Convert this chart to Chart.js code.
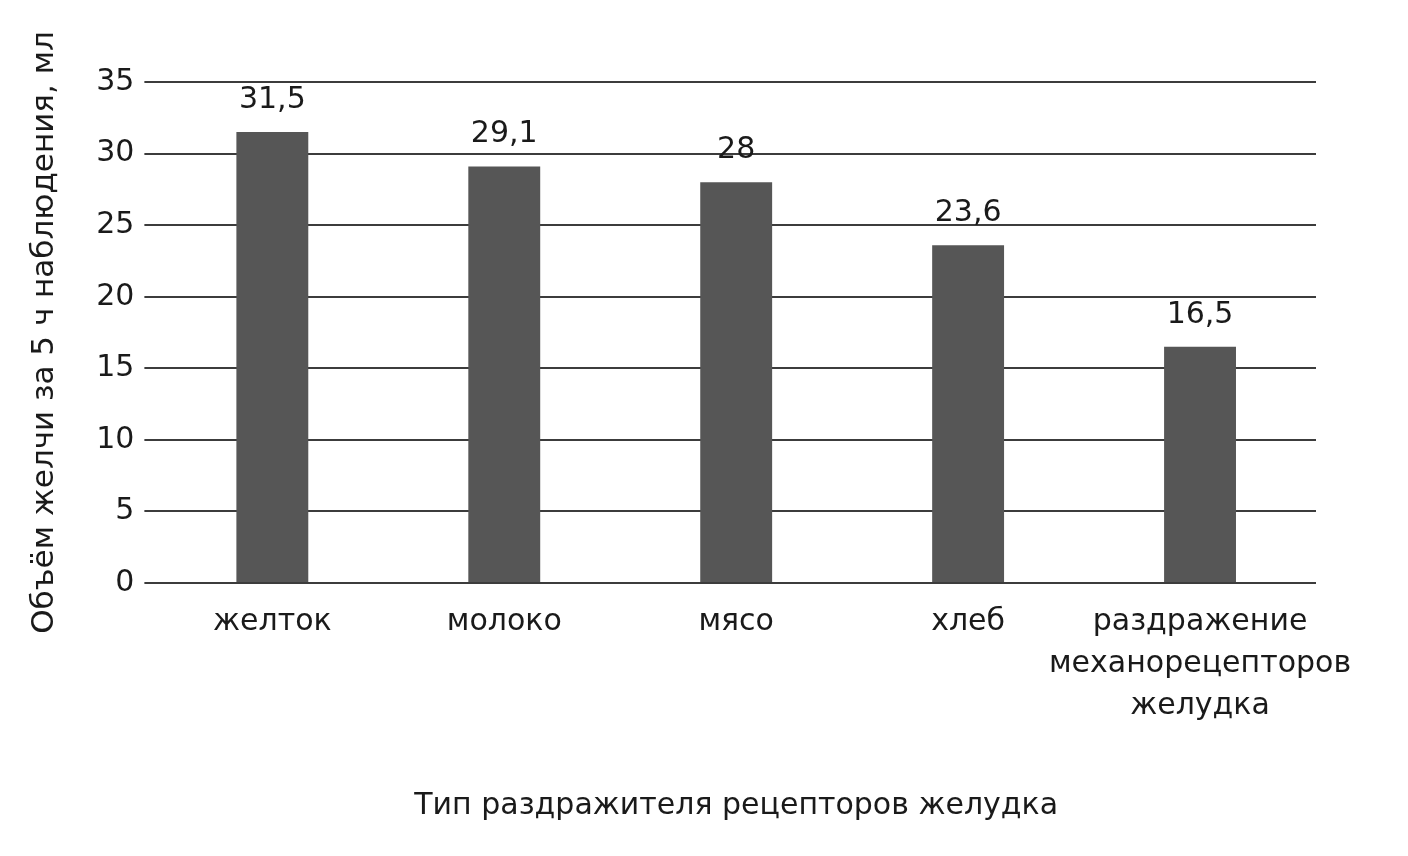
<!DOCTYPE html>
<html>
<head>
<meta charset="utf-8">
<script src="https://cdn.jsdelivr.net/npm/chart.js@4"></script>
<style>
  html, body { margin:0; padding:0; background:#fff; }
  #wrap { width:1408px; height:856px; }
</style>
</head>
<body>
<div id="wrap"><canvas id="bile" width="1408" height="856"></canvas></div>
<script>
const categories = ['желток', 'молоко', 'мясо', 'хлеб', ['раздражение', 'механорецепторов', 'желудка']];
const bileVolume = [31.5, 29.1, 28, 23.6, 16.5];
const yTicks = [0, 5, 10, 15, 20, 25, 30, 35];

const font = 'DejaVu Sans, Liberation Sans, sans-serif';
const ink = '#1a1a1a';

// подписи значений над столбиками
const valueLabels = {
  id: 'valueLabels',
  afterDatasetsDraw(chart){
    const ctx = chart.ctx;
    const meta = chart.getDatasetMeta(0);
    ctx.save();
    ctx.font = '30px ' + font;
    ctx.fillStyle = ink;
    ctx.textAlign = 'center';
    ctx.textBaseline = 'alphabetic';
    meta.data.forEach((bar, i) => {
      const txt = String(bileVolume[i]).replace('.', ',');
      ctx.fillText(txt, bar.x, bar.y - 24);
    });
    ctx.restore();
  }
};

new Chart(document.getElementById('bile'), {
  type: 'bar',
  data: {
    labels: categories,
    datasets: [{
      data: bileVolume,
      backgroundColor: '#565656',
      barPercentage: 0.31,
      categoryPercentage: 1
    }]
  },
  options: {
    responsive: false,
    animation: false,
    layout: { padding: { top: 82, right: 92, left: 22, bottom: 28 } },
    plugins: { legend: { display:false }, tooltip: { enabled:false } },
    scales: {
      x: {
        grid: { display:false, drawTicks:false },
        border: { display:false },
        ticks: { color: ink, font: { family: font, size: 30, lineHeight: 1.4 }, padding: 18, maxRotation: 0, autoSkip: false },
        title: {
          display: true,
          text: 'Тип раздражителя рецепторов желудка',
          color: ink,
          font: { family: font, size: 30 },
          padding: { top: 43 }
        }
      },
      y: {
        min: 0, max: 35,
        afterBuildTicks: axis => { axis.ticks = yTicks.map(v => ({ value: v })); },
        grid: { color: '#3c3c3c', lineWidth: 2, drawTicks: true, tickLength: 12 },
        border: { display:false },
        ticks: { color: ink, font: { family: font, size: 30 }, padding: 10 },
        title: {
          display: true,
          text: 'Объём желчи за 5 ч наблюдения, мл',
          color: ink,
          font: { family: font, size: 31 },
          padding: { bottom: 23 }
        }
      }
    }
  },
  plugins: [valueLabels]
});
</script>
</body>
</html>
